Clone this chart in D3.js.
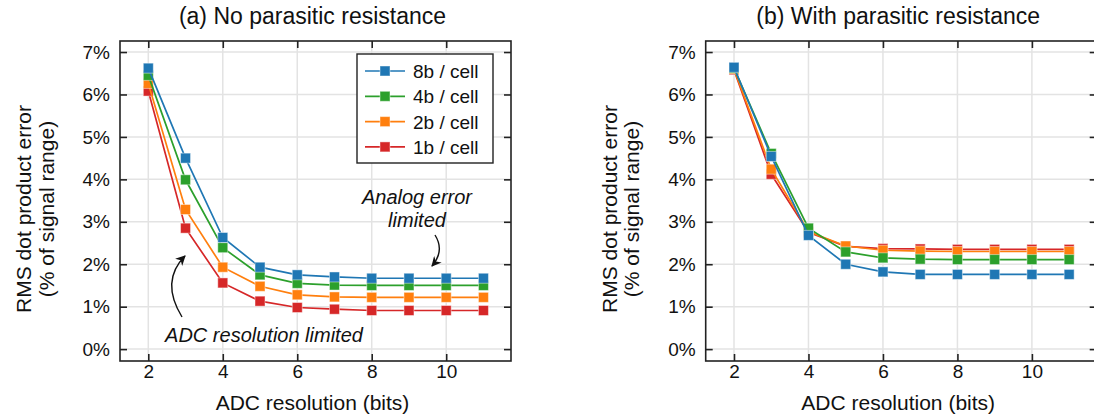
<!DOCTYPE html>
<html>
<head>
<meta charset="utf-8">
<script src="https://cdn.jsdelivr.net/npm/d3@7/dist/d3.min.js"></script>
<style>
  html, body { margin: 0; padding: 0; background: #fff; }
  svg { display: block; }
  text { font-family: "Liberation Sans", Arial, sans-serif; fill: #111; }
</style>
</head>
<body>
<svg id="chart" width="1094" height="419"></svg>
<script>
// ---- data ----
const adcBits = [2, 3, 4, 5, 6, 7, 8, 9, 10, 11];
const seriesNames = ["8b / cell", "4b / cell", "2b / cell", "1b / cell"];
const seriesColors = ["#1f77b4", "#2ca02c", "#ff7f0e", "#d62728"];

// (a) No parasitic resistance, % of signal range
const noPar8b = [6.62, 4.50, 2.63, 1.93, 1.75, 1.70, 1.67, 1.67, 1.67, 1.67];
const noPar4b = [6.45, 3.99, 2.39, 1.75, 1.55, 1.51, 1.50, 1.50, 1.50, 1.50];
const noPar2b = [6.26, 3.29, 1.93, 1.48, 1.28, 1.23, 1.22, 1.22, 1.22, 1.22];
const noPar1b = [6.08, 2.85, 1.56, 1.13, 0.98, 0.94, 0.91, 0.91, 0.91, 0.91];

// (b) With parasitic resistance
const withPar8b = [6.64, 4.54, 2.68, 2.00, 1.82, 1.76, 1.76, 1.76, 1.76, 1.76];
const withPar4b = [6.62, 4.61, 2.85, 2.29, 2.15, 2.12, 2.11, 2.11, 2.11, 2.11];
const withPar2b = [6.60, 4.24, 2.77, 2.43, 2.33, 2.31, 2.30, 2.30, 2.30, 2.30];
const withPar1b = [6.58, 4.12, 2.75, 2.42, 2.37, 2.36, 2.35, 2.35, 2.35, 2.35];

const xTicks = [2, 4, 6, 8, 10];
const yTicks = [0, 1, 2, 3, 4, 5, 6, 7];
const panelTitles = ["(a) No parasitic resistance", "(b) With parasitic resistance"];
const xLabel = "ADC resolution (bits)";
const yLabelLines = ["RMS dot product error", "(% of signal range)"];

// ---- drawing ----
const svg = d3.select("#chart");
const W = 391, H = 320, plotTop = 41;
const FONT = "Liberation Sans, Arial, sans-serif";
const MS = 10; // marker size
const defs = svg.append("defs");
defs.append("marker").attr("id", "arrow").attr("viewBox", "0 0 10 10")
  .attr("refX", 9).attr("refY", 5).attr("markerWidth", 10).attr("markerHeight", 10)
  .attr("markerUnits", "userSpaceOnUse").attr("orient", "auto")
  .append("path").attr("d", "M0,0 L10,5 L0,10 L3,5 Z").attr("fill", "#111");

function drawPanel(left, title, seriesData, showLegend, annotations) {
  const g = svg.append("g").attr("transform", `translate(${left},${plotTop})`);
  const x = d3.scaleLinear().domain([1.24, 11.74]).range([0, W]);
  const y = d3.scaleLinear().domain([-0.28, 7.26]).range([H, 0]);

  // grid
  g.append("g").selectAll("line").data(xTicks).join("line")
    .attr("x1", d => x(d)).attr("x2", d => x(d)).attr("y1", 0).attr("y2", H)
    .attr("stroke", "#e3e3e3").attr("stroke-width", 1.5);
  g.append("g").selectAll("line").data(yTicks).join("line")
    .attr("y1", d => y(d)).attr("y2", d => y(d)).attr("x1", 0).attr("x2", W)
    .attr("stroke", "#e3e3e3").attr("stroke-width", 1.5);

  // axes with inward ticks
  const tickStyle = sel => {
    sel.select(".domain").remove();
    sel.selectAll(".tick line").attr("stroke", "#222").attr("stroke-width", 1.6);
  };
  const labelStyle = s => s.selectAll(".tick text").attr("font-size", 19)
    .attr("font-family", FONT).attr("fill", "#111");
  g.append("g").attr("transform", `translate(0,${H})`)
    .call(d3.axisBottom(x).tickValues(xTicks).tickSizeInner(-7).tickPadding(3))
    .call(tickStyle).call(labelStyle);
  g.append("g")
    .call(d3.axisTop(x).tickValues(xTicks).tickSizeInner(-7).tickFormat(""))
    .call(tickStyle);
  g.append("g")
    .call(d3.axisLeft(y).tickValues(yTicks).tickSizeInner(-7).tickPadding(10).tickFormat(d => d + "%"))
    .call(tickStyle).call(labelStyle);
  g.append("g").attr("transform", `translate(${W},0)`)
    .call(d3.axisRight(y).tickValues(yTicks).tickSizeInner(-7).tickFormat(""))
    .call(tickStyle);

  // series (drawn last-to-first so 8b is on top)
  const line = d3.line().x((d, i) => x(adcBits[i])).y(d => y(d));
  for (let k = seriesData.length - 1; k >= 0; k--) {
    const vals = seriesData[k], col = seriesColors[k];
    g.append("path").datum(vals).attr("d", line).attr("fill", "none")
      .attr("stroke", col).attr("stroke-width", 1.7);
    g.append("g").selectAll("rect").data(vals).join("rect")
      .attr("x", (d, i) => x(adcBits[i]) - MS / 2).attr("y", d => y(d) - MS / 2)
      .attr("width", MS).attr("height", MS).attr("fill", col)
      .attr("stroke", "#fff").attr("stroke-opacity", 0.45).attr("stroke-width", 1);
  }

  // frame
  g.append("rect").attr("x", 0).attr("y", 0).attr("width", W).attr("height", H)
    .attr("fill", "none").attr("stroke", "#222").attr("stroke-width", 1.6);

  // title & labels
  g.append("text").attr("x", W / 2 - 3).attr("y", -17).attr("text-anchor", "middle")
    .attr("font-size", 23).text(title);
  g.append("text").attr("x", W / 2 - 3).attr("y", 369).attr("text-anchor", "middle")
    .attr("font-size", 21).text(xLabel);
  const yl = g.append("text").attr("transform", `translate(-89,${H / 2 + 8}) rotate(-90)`)
    .attr("text-anchor", "middle").attr("font-size", 21);
  yl.append("tspan").attr("x", 0).attr("dy", 0).text(yLabelLines[0]);
  yl.append("tspan").attr("x", 0).attr("dy", 22.5).text(yLabelLines[1]);

  if (showLegend) {
    const lg = g.append("g").attr("transform", "translate(237,13)");
    lg.append("rect").attr("width", 136).attr("height", 109).attr("fill", "#fff")
      .attr("stroke", "#222").attr("stroke-width", 1.4);
    seriesNames.forEach((n, i) => {
      const yy = 17 + i * 25.3;
      lg.append("line").attr("x1", 8).attr("x2", 48).attr("y1", yy).attr("y2", yy)
        .attr("stroke", seriesColors[i]).attr("stroke-width", 1.7);
      lg.append("rect").attr("x", 28 - MS / 2).attr("y", yy - MS / 2).attr("width", MS).attr("height", MS)
        .attr("fill", seriesColors[i]).attr("stroke", "#fff").attr("stroke-opacity", 0.45);
      lg.append("text").attr("x", 56).attr("y", yy + 7).attr("font-size", 19).text(n);
    });
  }

  if (annotations) {
    annotations.forEach(a => {
      const t = g.append("text").attr("text-anchor", "middle").attr("font-size", 20)
        .attr("font-style", "italic");
      a.lines.forEach((l, i) => t.append("tspan").attr("x", a.tx).attr("y", a.ty + i * 23).text(l));
      g.append("path").attr("d", a.path).attr("fill", "none").attr("stroke", "#111")
        .attr("stroke-width", 1.4).attr("marker-end", "url(#arrow)");
    });
  }
}

drawPanel(120, panelTitles[0], [noPar8b, noPar4b, noPar2b, noPar1b], true, [
  { lines: ["ADC resolution limited"], tx: 144, ty: 301, path: "M62,276 Q40,240 65,215" },
  { lines: ["Analog error", "limited"], tx: 297, ty: 163, path: "M315,194 Q325,210 312,225" }
]);
drawPanel(705.7, panelTitles[1], [withPar8b, withPar4b, withPar2b, withPar1b], false, null);
</script>
</body>
</html>
